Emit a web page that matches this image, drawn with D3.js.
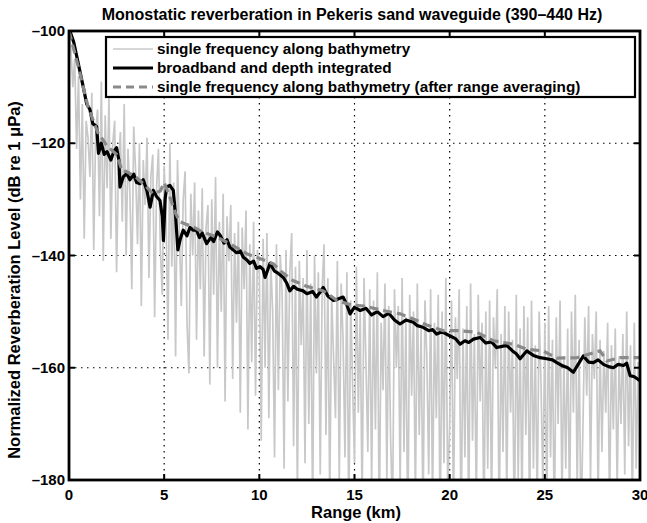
<!DOCTYPE html>
<html>
<head>
<meta charset="utf-8">
<script src="https://cdn.jsdelivr.net/npm/d3@7"></script>
<style>
  body { margin: 0; background: #fff; }
  svg text { font-family: "Liberation Sans", Arial, sans-serif; font-weight: bold; fill: #000; }
</style>
</head>
<body>
<svg id="chart" width="647" height="523"></svg>
<script>
// single frequency along bathymetry, sampled every 0.1 km (0 .. 30 km)
var greyLevels = [
  -100, -103, -110, -105, -121, -108, -130, -113, -137, -116,
  -119, -126, -111, -139, -118, -114, -133, -109, -141, -115,
  -128, -112, -137, -120, -116, -143, -124, -118, -134, -113,
  -140, -121, -129, -146, -117, -125, -138, -120, -149, -123,
  -131, -119, -144, -126, -122, -151, -128, -121, -139, -147,
  -124, -133, -155, -120, -142, -127, -158, -123, -136, -149,
  -130, -125, -152, -161, -129, -140, -127, -155, -132, -146,
  -128, -158, -135, -131, -163, -130, -147, -126, -160, -134,
  -150, -129, -166, -133, -141, -131, -162, -136, -152, -134,
  -168, -135, -146, -132, -171, -138, -159, -134, -165, -139,
  -143, -173, -137, -160, -136, -169, -141, -150, -176, -138,
  -164, -140, -147, -178, -139, -166, -143, -136, -174, -142,
  -183, -141, -156, -144, -177, -139, -170, -145, -186, -140,
  -161, -143, -179, -146, -138, -172, -144, -184, -147, -158,
  -169, -141, -181, -145, -155, -176, -143, -188, -148, -163,
  -177, -142, -168, -150, -185, -144, -159, -175, -146, -181,
  -148, -171, -143, -189, -152, -164, -145, -180, -149, -173,
  -186, -146, -160, -149, -182, -144, -175, -151, -191, -147,
  -165, -150, -184, -145, -172, -153, -188, -148, -158, -179,
  -146, -185, -152, -169, -147, -190, -150, -177, -144, -183,
  -170, -148, -187, -151, -162, -146, -191, -153, -176, -149,
  -188, -145, -173, -154, -185, -147, -166, -152, -190, -150,
  -178, -148, -186, -151, -160, -146, -189, -154, -175, -149,
  -184, -150, -168, -155, -191, -147, -180, -153, -186, -149,
  -172, -151, -188, -148, -178, -156, -185, -150, -163, -182,
  -152, -187, -149, -176, -155, -190, -151, -170, -148, -184,
  -158, -178, -153, -186, -150, -168, -147, -182, -155, -189,
  -171, -151, -165, -149, -180, -154, -162, -150, -184, -155,
  -175, -157, -168, -152, -186, -156, -171, -153, -182, -158,
  -170, -154, -179, -150, -174, -156, -185, -152, -178, -159,
  -163
];
var greyStep = 0.1;

// broadband and depth integrated
var blackRange = [0, 0.25, 0.5, 0.75, 0.93, 1.1, 1.25, 1.45, 1.55, 1.7, 1.85, 2.0, 2.2, 2.35, 2.5, 2.62, 2.68, 2.85,
  3.03, 3.2, 3.4, 3.55, 3.73, 3.9, 4.1, 4.26, 4.43, 4.6, 4.78, 4.9, 4.96, 5.05, 5.13, 5.3, 5.48, 5.6, 5.72, 5.85,
  6.0, 6.2, 6.35, 6.53, 6.7, 6.85, 7.0, 7.23, 7.45, 7.6, 7.8, 7.94, 8.15, 8.3, 8.45, 8.63, 8.8, 9.0, 9.16, 9.35,
  9.5, 9.7, 9.85, 10.04, 10.2, 10.3, 10.45, 10.56, 10.8, 11.0, 11.26, 11.45, 11.6, 11.8, 12.0, 12.3, 12.5, 12.8,
  13.0, 13.2, 13.36, 13.6, 13.9, 14.1, 14.4, 14.6, 14.77, 15.0, 15.3, 15.6, 15.9, 16.2, 16.5, 16.8, 17.1, 17.39,
  17.7, 18.09, 18.3, 18.6, 18.9, 19.1, 19.32, 19.6, 20.0, 20.3, 20.55, 20.8, 21.0, 21.25, 21.6, 21.9, 22.2, 22.47,
  22.75, 23.0, 23.3, 23.5, 23.7, 24.05, 24.4, 24.75, 25.1, 25.4, 25.63, 25.9, 26.2, 26.5, 26.75, 27.02, 27.3,
  27.55, 27.8, 28.08, 28.35, 28.6, 28.85, 29.13, 29.3, 29.48, 29.7, 30.0];
var blackLevels = [-99.5, -102, -106, -110, -113, -114, -116.5, -117, -121.8, -120, -122, -121.5, -123, -121.5,
  -120.8, -123, -127.8, -126, -125.4, -126.5, -125.5, -127, -127.2, -126.5, -128.5, -131.4, -128.4, -129.5,
  -130.2, -133, -137.3, -130, -127.8, -127.5, -128.4, -133, -139, -137, -135.5, -136.5, -135, -135.5, -135.5,
  -136.8, -136, -137.9, -136.8, -137.5, -135.8, -136.4, -137.8, -137.2, -138.5, -139, -139.5, -139.2, -140.3,
  -140.8, -141.4, -141, -142.3, -142, -142.5, -143.9, -142.5, -141.4, -142.8, -143.2, -143.9, -145, -146.3,
  -145.5, -146, -146.3, -146.8, -146.4, -147.4, -146.5, -145.7, -147.2, -148, -147.8, -147.4, -148.8, -150.4,
  -149.2, -149.8, -149.4, -150.6, -150, -150.9, -150.3, -151.5, -152.2, -151.5, -151.9, -152.5, -152.8, -153.4,
  -153.2, -154, -153.6, -154.3, -154.8, -155.8, -155.2, -155.5, -154.9, -154.6, -155.6, -155.4, -156.4, -156.2,
  -156, -157, -157.5, -158.4, -157, -157.8, -158.2, -158.4, -158.6, -159.1, -159.6, -160, -160.8, -159.4,
  -157.9, -159, -159.1, -158.6, -159.4, -159.8, -160, -159.4, -159.6, -159.2, -161.4, -161.6, -162.3];

// single frequency after range averaging
var avgRange = [0, 0.5, 1.0, 1.5, 2.0, 2.5, 2.8, 3.0, 3.5, 4.0, 4.4, 4.8, 5.0, 5.3, 5.6, 5.83, 6.2, 6.53, 7.0,
  7.76, 8.5, 9.34, 10.0, 10.74, 11.2, 11.79, 12.5, 13.36, 14.07, 14.8, 15.5, 16.5, 17.4, 18.09, 18.8, 19.67,
  20.55, 21.43, 22.3, 23.35, 24.05, 24.9, 25.63, 26.7, 27.3, 27.9, 28.26, 28.95, 29.65, 30];
var avgLevels = [-100, -106.5, -113.5, -118, -120.5, -122, -125, -125, -126, -127.5, -129, -128.5, -127, -129.6,
  -132.5, -134, -134.5, -134.9, -135.8, -136.7, -138, -139.7, -140.5, -141.5, -143, -144.5, -145.5, -146.3,
  -148, -148.8, -149, -149.8, -150.4, -151.3, -152.4, -153.4, -153.4, -153.7, -155.2, -155.8, -156.7, -157,
  -158.3, -158.2, -157.6, -157, -158.8, -158.2, -158.2, -158.2];

var xTicks = [0, 5, 10, 15, 20, 25, 30];
var yTicks = [-100, -120, -140, -160, -180];
var legendLabels = [
  "single frequency along bathymetry",
  "broadband and depth integrated",
  "single frequency along bathymetry (after range averaging)"
];

var drawChart = function () {
  var svg = d3.select("#chart");
  var plotLeft = 69, plotRight = 640, plotTop = 31, plotBottom = 480;

  var x = d3.scaleLinear().domain([0, 30]).range([plotLeft, plotRight]);
  var y = d3.scaleLinear().domain([-180, -100]).range([plotBottom, plotTop]);
  var minus = function (v) { return v < 0 ? "\u2013" + Math.abs(v) : String(v); };

  svg.append("defs").append("clipPath").attr("id", "plotClip")
    .append("rect")
    .attr("x", plotLeft).attr("y", plotTop)
    .attr("width", plotRight - plotLeft).attr("height", plotBottom - plotTop);

  // dotted grid
  var grid = svg.append("g");
  grid.selectAll(".gx")
    .data(xTicks.slice(1, -1))
    .enter().append("line")
    .attr("x1", function (d) { return x(d); })
    .attr("x2", function (d) { return x(d); })
    .attr("y1", plotTop).attr("y2", plotBottom)
    .attr("stroke", "#000").attr("stroke-width", 1.2)
    .attr("stroke-dasharray", "1.5,4.5");
  grid.selectAll(".gy")
    .data(yTicks.slice(1, -1))
    .enter().append("line")
    .attr("y1", function (d) { return y(d); })
    .attr("y2", function (d) { return y(d); })
    .attr("x1", plotLeft).attr("x2", plotRight)
    .attr("stroke", "#000").attr("stroke-width", 1.2)
    .attr("stroke-dasharray", "1.5,4.5");

  var plot = svg.append("g").attr("clip-path", "url(#plotClip)");

  var line = d3.line()
    .x(function (d) { return x(d[0]); })
    .y(function (d) { return y(d[1]); });

  var greyData = greyLevels.map(function (v, i) { return [i * greyStep, v]; });
  var blackData = blackRange.map(function (r, i) { return [r, blackLevels[i]]; });
  var avgData = avgRange.map(function (r, i) { return [r, avgLevels[i]]; });

  plot.append("path")
    .attr("d", line(greyData))
    .attr("fill", "none")
    .attr("stroke", "#c8c8c8")
    .attr("stroke-width", 1.7);

  plot.append("path")
    .attr("d", line(blackData))
    .attr("fill", "none")
    .attr("stroke", "#000")
    .attr("stroke-width", 3.2)
    .attr("stroke-linejoin", "round");

  plot.append("path")
    .attr("d", line(avgData))
    .attr("fill", "none")
    .attr("stroke", "#8a8a8a")
    .attr("stroke-width", 3.2)
    .attr("stroke-dasharray", "9,5");

  // axes box with inward ticks on all four sides
  var tickLen = 6;
  var axes = svg.append("g");
  axes.selectAll(".tb")
    .data(xTicks)
    .enter().append("line")
    .attr("x1", function (d) { return x(d); })
    .attr("x2", function (d) { return x(d); })
    .attr("y1", plotBottom).attr("y2", plotBottom - tickLen)
    .attr("stroke", "#000").attr("stroke-width", 2);
  axes.selectAll(".tt")
    .data(xTicks)
    .enter().append("line")
    .attr("x1", function (d) { return x(d); })
    .attr("x2", function (d) { return x(d); })
    .attr("y1", plotTop).attr("y2", plotTop + tickLen)
    .attr("stroke", "#000").attr("stroke-width", 2);
  axes.selectAll(".tl")
    .data(yTicks)
    .enter().append("line")
    .attr("y1", function (d) { return y(d); })
    .attr("y2", function (d) { return y(d); })
    .attr("x1", plotLeft).attr("x2", plotLeft + tickLen)
    .attr("stroke", "#000").attr("stroke-width", 2);
  axes.selectAll(".tr")
    .data(yTicks)
    .enter().append("line")
    .attr("y1", function (d) { return y(d); })
    .attr("y2", function (d) { return y(d); })
    .attr("x1", plotRight).attr("x2", plotRight - tickLen)
    .attr("stroke", "#000").attr("stroke-width", 2);
  axes.append("rect")
    .attr("x", plotLeft).attr("y", plotTop)
    .attr("width", plotRight - plotLeft).attr("height", plotBottom - plotTop)
    .attr("fill", "none").attr("stroke", "#000").attr("stroke-width", 2.8);

  // tick labels
  svg.selectAll(".xl")
    .data(xTicks)
    .enter().append("text")
    .attr("x", function (d) { return x(d); })
    .attr("y", plotBottom + 20)
    .attr("text-anchor", "middle")
    .style("font-size", "15px")
    .text(function (d) { return d; });
  svg.selectAll(".yl")
    .data(yTicks)
    .enter().append("text")
    .attr("x", plotLeft - 4)
    .attr("y", function (d) { return y(d) + 5; })
    .attr("text-anchor", "end")
    .style("font-size", "15px")
    .text(minus);

  // titles
  svg.append("text")
    .attr("x", 352).attr("y", 20)
    .attr("text-anchor", "middle")
    .style("font-size", "16px")
    .text("Monostatic reverberation in Pekeris sand waveguide (390\u2013440 Hz)");
  svg.append("text")
    .attr("x", 356).attr("y", 518)
    .attr("text-anchor", "middle")
    .style("font-size", "16.5px")
    .text("Range (km)");
  svg.append("text")
    .attr("transform", "translate(20,280) rotate(-90)")
    .attr("text-anchor", "middle")
    .style("font-size", "16.5px")
    .text("Normalized Reverberation Level (dB re 1 \u03bcPa)");

  // legend
  var legendX = 106, legendY = 37;
  var legend = svg.append("g");
  legend.append("rect")
    .attr("x", legendX).attr("y", legendY)
    .attr("width", 529).attr("height", 60)
    .attr("fill", "#fff").attr("stroke", "#000").attr("stroke-width", 2.2);
  var legendStyles = [
    { color: "#c8c8c8", width: 1.7, dash: null },
    { color: "#000", width: 3.2, dash: null },
    { color: "#8a8a8a", width: 3.2, dash: "8,5" }
  ];
  legendLabels.forEach(function (label, i) {
    var ly = legendY + 12 + i * 19;
    legend.append("line")
      .attr("x1", legendX + 7).attr("x2", legendX + 47)
      .attr("y1", ly).attr("y2", ly)
      .attr("stroke", legendStyles[i].color)
      .attr("stroke-width", legendStyles[i].width)
      .attr("stroke-dasharray", legendStyles[i].dash);
    legend.append("text")
      .attr("x", legendX + 51).attr("y", ly + 5)
      .style("font-size", "15.3px")
      .text(label);
  });
};

drawChart();
</script>
</body>
</html>
